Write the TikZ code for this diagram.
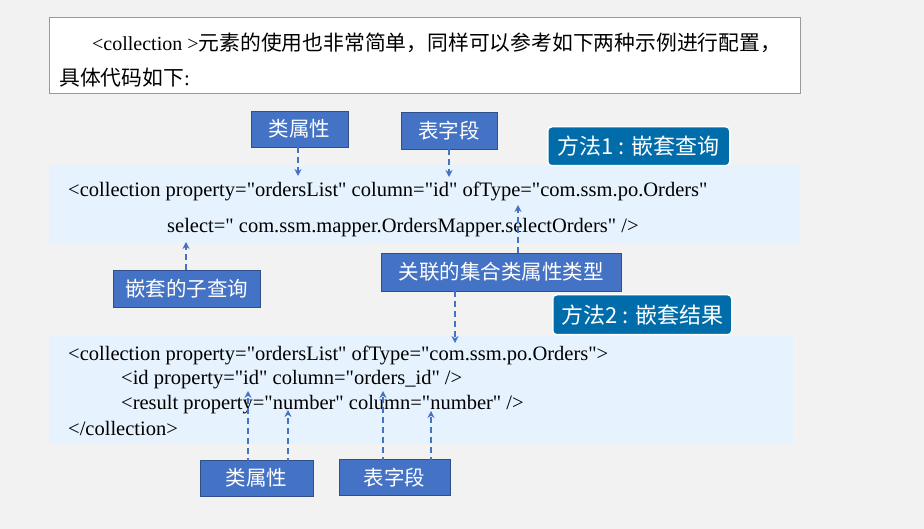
\documentclass[tikz,border=0pt]{standalone}
\usepackage{fontspec}
\setmainfont{Liberation Serif}[Ligatures=TeXOff]
\newfontfamily\cjk{Noto Sans CJK SC}
\usetikzlibrary{arrows.meta}
\definecolor{bgc}{HTML}{F2F2F2}
\definecolor{panel}{HTML}{E6F2FD}
\definecolor{lblue}{HTML}{4472C4}
\definecolor{mblue}{HTML}{006DAA}
\definecolor{arr}{HTML}{4472C4}
\tikzset{
  lbl/.style={draw=lblue!70!black, fill=lblue, text=white, font=\cjk\fontsize{20.5}{24}\selectfont, inner sep=0pt, anchor=north west},
  meth/.style={draw=white, line width=1.5pt, fill=mblue, text=white, rounded corners=4pt, font=\cjk\fontsize{22}{26}\selectfont, inner sep=0pt, anchor=north west},
  code/.style={font=\fontsize{20.5}{24}\selectfont, inner sep=0pt, anchor=west, text=black},
  darr/.style={draw=arr, line width=1.6pt, dash pattern=on 6pt off 4pt, -{Stealth[length=7pt,width=7pt]}},
}
\begin{document}
\begin{tikzpicture}[x=1pt,y=-1pt]
\fill[bgc] (0,0) rectangle (924,529);
\useasboundingbox (0,0) rectangle (924,529);
% top box
\draw[gray!80, fill=white] (49,17) rectangle (800,93);
\node[font=\cjk\fontsize{20.8}{24}\selectfont, inner sep=0pt, anchor=west] (t1) at (92,43) {{\rmfamily\fontsize{20}{22}\selectfont <collection >}元素的使用也非常简单，同样可以参考如下两种示例进行配置，};
\node[font=\cjk\fontsize{20.8}{24}\selectfont, inner sep=0pt, anchor=west] (t2) at (59,78) {具体代码如下{\rmfamily:}};
% panels
\fill[panel] (49,165) rectangle (800,243);
\fill[panel] (49,336) rectangle (793,444);
% panel 1 code
\node[code] (c1) at (68,191) {<collection property="ordersList" column="id" ofType="com.ssm.po.Orders"};
\node[code] (c2) at (167,228) {select=" com.ssm.mapper.OrdersMapper.selectOrders" />};
% panel 2 code
\node[code] (d1) at (68,355) {<collection property="ordersList" ofType="com.ssm.po.Orders">};
\node[code] (d2) at (121,380) {<id property="id" column="orders\_id" />};
\node[code] (d3) at (121,405) {<result property="number" column="number" />};
\node[code] (d4) at (68,428) {</collection>};
% labels
\node[lbl, minimum width=97pt, minimum height=36pt] (a1) at (251,111) {类属性};
\node[lbl, minimum width=96pt, minimum height=37pt] (a2) at (401,112) {表字段};
\node[meth, minimum width=182pt, minimum height=39pt] (m1) at (547,126) {方法1 : 嵌套查询};
\node[lbl, minimum width=147pt, minimum height=37pt] (a3) at (113,270) {嵌套的子查询};
\node[lbl, minimum width=240pt, minimum height=38pt] (a4) at (381,253) {关联的集合类属性类型};
\node[meth, minimum width=179pt, minimum height=40pt] (m2) at (552,294) {方法2 : 嵌套结果};
\node[lbl, minimum width=113pt, minimum height=36pt] (b1) at (200,460) {类属性};
\node[lbl, minimum width=111pt, minimum height=36pt] (b2) at (339,459) {表字段};
% arrow end coordinates
\coordinate (e1) at (298,176);
\coordinate (e2) at (449,177);
\coordinate (e3) at (186,242);
\coordinate (e4) at (518,205);
\coordinate (e5) at (455,343);
\coordinate (f1) at (248,391);
\coordinate (f2) at (288,410);
\coordinate (f3) at (383,391);
\coordinate (f4) at (431,411);
% arrows
\draw[darr] (a1.south -| e1) -- (e1);
\draw[darr] (a2.south -| e2) -- (e2);
\draw[darr] (a3.north -| e3) -- (e3);
\draw[darr] (a4.north -| e4) -- (e4);
\draw[darr] (a4.south -| e5) -- (e5);
\draw[darr] ([yshift=-4pt]b1.north -| f1) -- (f1);
\draw[darr] ([yshift=-4pt]b1.north -| f2) -- (f2);
\draw[darr] ([yshift=-4pt]b2.north -| f3) -- (f3);
\draw[darr] ([yshift=-4pt]b2.north -| f4) -- (f4);
\end{tikzpicture}
\end{document}
